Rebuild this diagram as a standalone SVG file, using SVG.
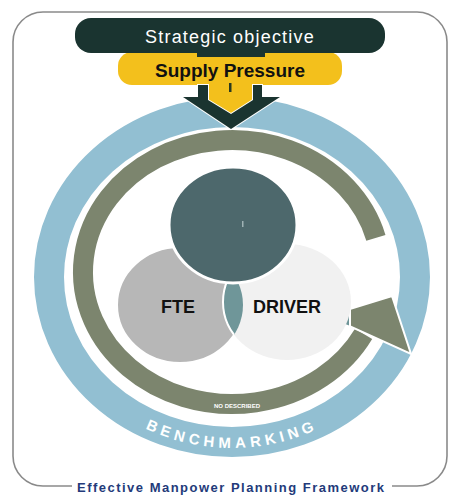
<svg xmlns="http://www.w3.org/2000/svg" width="451" height="495" viewBox="0 0 451 495">
<style>
.lbl{font-family:"Liberation Sans",Arial,sans-serif;font-weight:bold;fill:#111}
.wht{font-family:"Liberation Sans",Arial,sans-serif;fill:#fff}
</style>
<defs>
<clipPath id="fteClip"><ellipse cx="180" cy="305" rx="63" ry="58"/></clipPath>
<path id="benchPath" d="M70.4,363 A187,171 0 0 0 393.6,363"/>
</defs>
<rect width="451" height="495" fill="#fff"/>
<g id="frame">
<path d="M72,486 H43 A30,30 0 0 1 13,456 V42 A30,30 0 0 1 43,12 H417 A30,30 0 0 1 447,42 V456 A30,30 0 0 1 417,486 H392" fill="none" stroke="#8a8a8a" stroke-width="1.6"/>
</g>
<g id="benchmarking">
<ellipse cx="232" cy="277" rx="183" ry="165" fill="none" stroke="#92bfd2" stroke-width="30"/>
<text class="wht" font-size="15" font-weight="bold" letter-spacing="4.5" text-anchor="middle"><textPath href="#benchPath" startOffset="50%">BENCHMARKING</textPath></text>
</g>
<g id="connectors">
<path d="M375.9,237.8 A149,132 0 1 0 363.6,333.9" fill="none" stroke="#7c856e" stroke-width="20"/>
<polygon points="327,316 392,296 411,354" fill="#7c856e" stroke="#fff" stroke-width="2" stroke-linejoin="miter"/>
<polygon points="325,317 350,309 350,327" fill="#6e9598" stroke="#fff" stroke-width="2"/>
<text class="wht" x="237" y="408" font-size="6" font-weight="bold" text-anchor="middle">NO DESCRIBED</text>
</g>
<g id="fte">
<ellipse cx="180" cy="305" rx="63" ry="58" fill="#b7b7b7" stroke="#fff" stroke-width="2"/>
<text class="lbl" x="178" y="313" font-size="18" text-anchor="middle">FTE</text>
</g>
<g id="driver">
<ellipse cx="287" cy="302" rx="64" ry="58" fill="#f1f1f1"/>
<ellipse cx="287" cy="302" rx="64" ry="58" fill="#6f9699" stroke="#fff" stroke-width="2" clip-path="url(#fteClip)"/>
<text class="lbl" x="287" y="313" font-size="18" text-anchor="middle">DRIVER</text>
</g>
<g id="core">
<ellipse cx="233" cy="225" rx="64" ry="58" fill="#4d686c" stroke="#fff" stroke-width="3"/>
<rect x="242" y="221" width="1.5" height="6" fill="#9fb2b4"/>
</g>
<g id="supply-pressure">
<rect x="118" y="52" width="224" height="33" rx="14" fill="#f3c01c"/>
<text class="lbl" x="230" y="77" font-size="19" text-anchor="middle">Supply Pressure</text>
</g>
<g id="strategic-objective">
<rect x="75" y="18" width="310" height="35" rx="16" fill="#1a3430"/>
<rect x="197" y="45" width="68" height="12" fill="#1a3430"/>
<text class="wht" x="230" y="43" font-size="18" letter-spacing="1.2" text-anchor="middle">Strategic objective</text>
</g>
<g id="down-arrow">
<polygon points="208,85 253,85 253,100 231,114 208,100" fill="#f3c01c"/>
<polygon points="198,85 208,85 208,100 231,114 253,100 253,85 262,85 262,97 280,97 231,129 183,97 198,97" fill="#1a3430" stroke="#fff" stroke-width="2" paint-order="stroke" stroke-linejoin="miter"/>
<rect x="229" y="83" width="2.5" height="9" fill="#2a3a20"/>
</g>
<g id="caption">
<text x="77" y="492" font-family="'Liberation Sans',Arial,sans-serif" font-weight="bold" font-size="13" fill="#233a7a" textLength="307" lengthAdjust="spacing">Effective Manpower Planning Framework</text>
</g>
</svg>
